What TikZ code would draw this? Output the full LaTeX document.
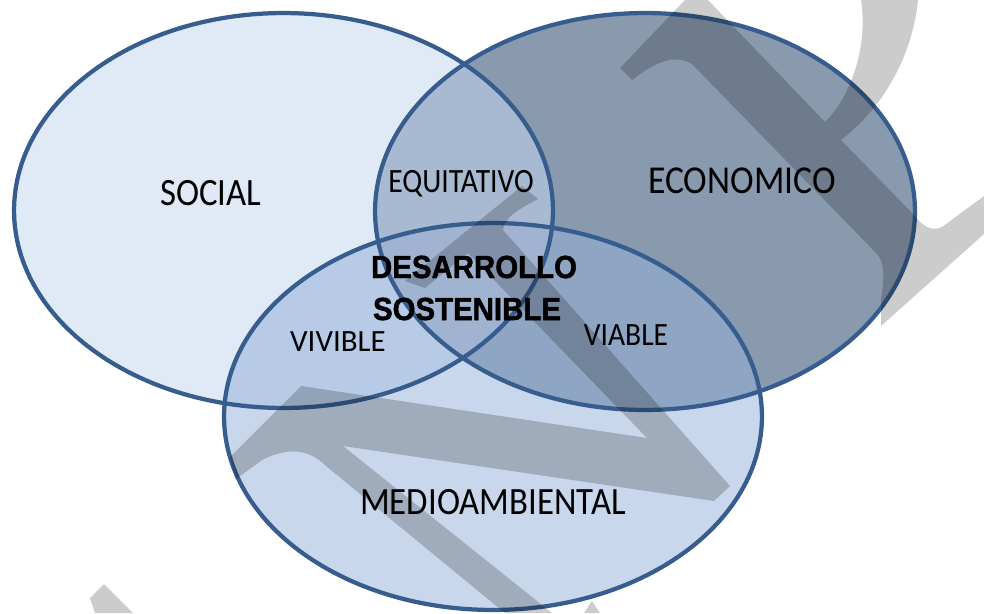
\documentclass[tikz,border=0pt]{standalone}
\usepackage{fontspec}
\setmainfont{Carlito}
\newfontfamily\wordfont{Carlito}
\newfontfamily\heavyfont{Liberation Sans}[BoldFeatures={FakeBold=1.5}]
\definecolor{colS}{HTML}{E0EAF6}
\definecolor{colE}{HTML}{899AAF}
\definecolor{colM}{HTML}{C8D7EB}
\definecolor{colSE}{HTML}{A8BAD2}
\definecolor{colSM}{HTML}{B7CBE6}
\definecolor{colEM}{HTML}{8EA5C3}
\definecolor{colSEM}{HTML}{A0B4D2}
\definecolor{edgeblue}{HTML}{365D8E}
\tikzset{
  lbl/.style={text=black, inner sep=0pt, anchor=base},
  wm/.style={fill=black, fill opacity=0.2},
  rim/.style={draw=edgeblue, line width=0.085cm}
}
\def\ellS{(283.5,210.5) ellipse [x radius=5.39cm, y radius=3.95cm]}
\def\ellE{(645,211.5) ellipse [x radius=5.40cm, y radius=3.97cm]}
\def\ellM{(493,416.5) ellipse [x radius=5.38cm, y radius=3.87cm]}
\begin{document}
\begin{tikzpicture}[x=0.02cm,y=-0.02cm]
\useasboundingbox (0,0) rectangle (984,613);
\fill[white] (0,0) rectangle (984,613);
% fills
\fill[colS] \ellS;
\fill[colE] \ellE;
\fill[colM] \ellM;
\begin{scope}
  \clip \ellS;
  \fill[colSE] \ellE;
  \fill[colSM] \ellM;
\end{scope}
\begin{scope}
  \clip \ellE;
  \fill[colEM] \ellM;
\end{scope}
\begin{scope}
  \clip \ellS;
  \clip \ellE;
  \fill[colSEM] \ellM;
\end{scope}
% outlines
\draw[rim] \ellS;
\draw[rim] \ellE;
\draw[rim] \ellM;
% watermark
\fill[wm] (685,0) -- (620,68) -- (632,80) .. controls (650,66) and (672,52) .. (692,64)
  -- (878,255) .. controls (885,265) and (884,280) .. (881,300) -- (881,326)
  -- (984,234) -- (984,196) -- (942,227) .. controls (932,232) and (922,226) .. (914,215)
  -- (841,140) .. controls (880,110) and (912,60) .. (918,0) -- (861,0)
  .. controls (868,45) and (852,95) .. (825,122) -- (708,0) -- cycle;
\fill[wm] (301,386) -- (647,438) -- (468,253) -- (425,288) -- (405,281) -- (522,186)
  -- (538,199) .. controls (522,208) and (505,215) .. (503,230) -- (730,486) -- (714,501)
  -- (343,446) -- (552,613) -- (505,613) -- (326,466)
  .. controls (310,450) and (290,446) .. (262,460) -- (236,479) -- (230,457) -- cycle;
\fill[wm] (90,598) -- (104,584) -- (133,613) -- (95,613) -- cycle;
\fill[wm] (584,613) -- (592,601) -- (600,613) -- cycle;
% labels
\node[lbl, font=\wordfont\fontsize{22}{26}\selectfont, xscale=0.9] (social) at (211,205) {SOCIAL};
\node[lbl, font=\wordfont\fontsize{22.5}{26}\selectfont, xscale=0.9] (economico) at (742,193) {ECONOMICO};
\node[lbl, font=\wordfont\fontsize{19.4}{23}\selectfont, xscale=0.87] (equitativo) at (461,192) {EQUITATIVO};
\node[lbl, font=\heavyfont\bfseries\fontsize{18.2}{22}\selectfont, xscale=0.92] (desarrollo) at (474,278) {DESARROLLO};
\node[lbl, font=\heavyfont\bfseries\fontsize{18.2}{22}\selectfont, xscale=0.92] (sostenible) at (467,320) {SOSTENIBLE};
\node[lbl, font=\wordfont\fontsize{17.6}{21}\selectfont] (vivible) at (338,351) {VIVIBLE};
\node[lbl, font=\wordfont\fontsize{18.5}{22}\selectfont, xscale=0.91] (viable) at (626,345) {VIABLE};
\node[lbl, font=\wordfont\fontsize{22}{26}\selectfont, xscale=0.9] (medio) at (493,514) {MEDIOAMBIENTAL};
\end{tikzpicture}
\end{document}
